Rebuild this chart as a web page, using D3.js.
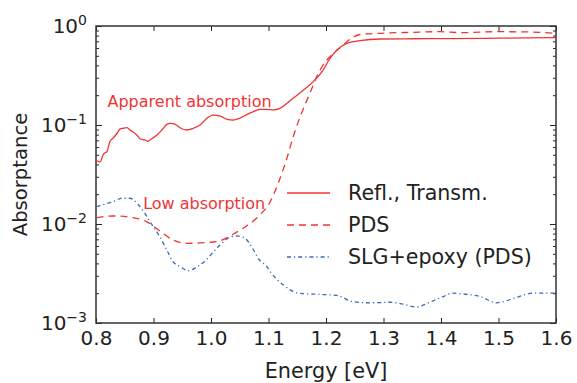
<!DOCTYPE html>
<html>
<head>
<meta charset="utf-8">
<script src="https://cdn.jsdelivr.net/npm/d3@7"></script>
<style>
  html, body { margin: 0; padding: 0; background: #fff; }
  svg { display: block; font-family: "DejaVu Sans", sans-serif; }
</style>
</head>
<body>
<svg id="chart" width="577" height="383"></svg>
<script>
// Absorptance from reflection/transmission measurements
const reflE = [0.800, 0.807, 0.813, 0.819, 0.824, 0.830, 0.837, 0.842, 0.847, 0.854, 0.859, 0.864, 0.871, 0.877,
  0.885, 0.890, 0.894, 0.906, 0.917, 0.923, 0.929, 0.937, 0.946, 0.958, 0.969, 0.981, 0.993, 1.003, 1.016,
  1.028, 1.038, 1.050, 1.063, 1.073, 1.085, 1.097, 1.108, 1.120, 1.132, 1.137, 1.161, 1.178, 1.195, 1.207,
  1.219, 1.236, 1.259, 1.294, 1.351, 1.410, 1.503, 1.600];
const reflA = [0.0443, 0.0423, 0.0509, 0.0537, 0.0678, 0.0739, 0.0830, 0.0912, 0.0926, 0.0939, 0.0890, 0.0855,
  0.0792, 0.0722, 0.0706, 0.0685, 0.0706, 0.0792, 0.0926, 0.1016, 0.1040, 0.1023, 0.0939, 0.0890, 0.0926,
  0.100, 0.117, 0.126, 0.123, 0.114, 0.112, 0.117, 0.128, 0.136, 0.144, 0.144, 0.142, 0.147, 0.166, 0.175,
  0.226, 0.274, 0.359, 0.472, 0.572, 0.669, 0.711, 0.739, 0.743, 0.745, 0.753, 0.762];

// Absorptance from photothermal deflection spectroscopy
const pdsE = [0.801, 0.830, 0.864, 0.888, 0.911, 0.934, 0.960, 0.990, 1.012, 1.039, 1.064, 1.085, 1.103, 1.117,
  1.132, 1.143, 1.155, 1.172, 1.184, 1.195, 1.213, 1.230, 1.245, 1.259, 1.294, 1.352, 1.398, 1.438, 1.497,
  1.555, 1.600];
const pdsA = [0.0116, 0.01205, 0.0116, 0.01055, 0.00850, 0.00689, 0.00638, 0.00648, 0.00666, 0.00793, 0.00977,
  0.01233, 0.0168, 0.0260, 0.0461, 0.0762, 0.121, 0.209, 0.308, 0.404, 0.530, 0.643, 0.756, 0.821, 0.844,
  0.864, 0.876, 0.856, 0.876, 0.870, 0.844];

// Reference substrate: soda-lime glass + epoxy, PDS
const slgE = [0.801, 0.816, 0.830, 0.845, 0.859, 0.874, 0.885, 0.894, 0.911, 0.926, 0.934, 0.946, 0.961, 0.975,
  0.990, 1.010, 1.033, 1.045, 1.059, 1.074, 1.082, 1.097, 1.103, 1.126, 1.152, 1.184, 1.219, 1.247, 1.277,
  1.311, 1.334, 1.358, 1.377, 1.404, 1.419, 1.439, 1.468, 1.497, 1.508, 1.532, 1.560, 1.600];
const slgA = [0.01496, 0.0159, 0.0168, 0.0182, 0.0182, 0.01556, 0.01282, 0.01055, 0.00744, 0.00506, 0.00416,
  0.00371, 0.00338, 0.00366, 0.00426, 0.00569, 0.00734, 0.00757, 0.00717, 0.00546, 0.00450, 0.00371,
  0.00330, 0.00242, 0.00200, 0.00195, 0.00190, 0.00164, 0.00160, 0.00162, 0.00155, 0.00145, 0.00159,
  0.00185, 0.00200, 0.00196, 0.00185, 0.00160, 0.00164, 0.00182, 0.00200, 0.00200];

const xTicks = [0.8, 0.9, 1.0, 1.1, 1.2, 1.3, 1.4, 1.5, 1.6];
const yTicks = [1e-3, 1e-2, 1e-1, 1];
const yTickExp = ["−3", "−2", "−1", "0"];
const legendLabels = ["Refl., Transm.", "PDS", "SLG+epoxy (PDS)"];
const annotations = [
  { text: "Apparent absorption", e: 0.820, a: 0.153 },
  { text: "Low absorption", e: 0.882, a: 0.0141 }
];

const W = 577, H = 383;
const margin = { left: 96, right: 21, top: 26, bottom: 60 };
const red = "#f03434", blue = "#3a69bd", ink = "#222";

const svg = d3.select("#chart");
const x = d3.scaleLinear().domain([0.8, 1.6]).range([margin.left, W - margin.right]);
const y = d3.scaleLog().domain([1e-3, 1]).range([H - margin.bottom, margin.top]);

const minorY = [];
for (let p = -3; p < 0; p++) for (let k = 2; k <= 9; k++) minorY.push(k * Math.pow(10, p));

const styleAxis = g => {
  g.select(".domain").remove();
  g.selectAll(".tick line").attr("stroke", ink).attr("stroke-width", 1);
  g.selectAll(".tick text").attr("fill", ink).attr("font-size", 20)
    .attr("font-family", "DejaVu Sans, sans-serif");
};

// bottom axis with labels
svg.append("g").attr("transform", `translate(0,${y(1e-3)})`)
  .call(d3.axisBottom(x).tickValues(xTicks).tickFormat(d3.format(".1f")).tickSize(-5).tickPadding(8))
  .call(styleAxis);
// top axis, ticks only
svg.append("g").attr("transform", `translate(0,${y(1)})`)
  .call(d3.axisTop(x).tickValues(xTicks).tickFormat("").tickSize(-5))
  .call(styleAxis);

// left axis: major with power-of-ten labels, then minor
const left = svg.append("g").attr("transform", `translate(${x(0.8)},0)`)
  .call(d3.axisLeft(y).tickValues(yTicks).tickSize(-6).tickPadding(9))
  .call(styleAxis);
left.selectAll(".tick text").each(function (d, i) {
  const t = d3.select(this).text(null);
  t.append("tspan").text("10");
  t.append("tspan").attr("dy", -8).attr("font-size", 14).text(yTickExp[i]);
});
svg.append("g").attr("transform", `translate(${x(0.8)},0)`)
  .call(d3.axisLeft(y).tickValues(minorY).tickFormat("").tickSize(-3))
  .call(styleAxis);
// right axis
svg.append("g").attr("transform", `translate(${x(1.6)},0)`)
  .call(d3.axisRight(y).tickValues(yTicks).tickFormat("").tickSize(-6))
  .call(styleAxis);
svg.append("g").attr("transform", `translate(${x(1.6)},0)`)
  .call(d3.axisRight(y).tickValues(minorY).tickFormat("").tickSize(-3))
  .call(styleAxis);

// frame
svg.append("rect")
  .attr("x", x(0.8)).attr("y", y(1))
  .attr("width", x(1.6) - x(0.8)).attr("height", y(1e-3) - y(1))
  .attr("fill", "none").attr("stroke", "#333").attr("stroke-width", 1.5);

// curves
const line = (es) => d3.line().x((d, i) => x(es[i])).y(d => y(d)).curve(d3.curveMonotoneX);
const plot = svg.append("g");
plot.append("path").attr("d", line(slgE)(slgA))
  .attr("fill", "none").attr("stroke", blue).attr("stroke-width", 1.3).attr("stroke-dasharray", "4,3,1.2,3");
plot.append("path").attr("d", line(pdsE)(pdsA))
  .attr("fill", "none").attr("stroke", red).attr("stroke-width", 1.3).attr("stroke-dasharray", "7,5");
plot.append("path").attr("d", line(reflE)(reflA))
  .attr("fill", "none").attr("stroke", red).attr("stroke-width", 1.3);

// annotations
svg.selectAll(".note").data(annotations).enter().append("text")
  .attr("class", "note")
  .attr("x", d => x(d.e)).attr("y", d => y(d.a))
  .attr("fill", red).attr("font-size", 16)
  .text(d => d.text);

// legend
const legendStyles = [
  { stroke: red, dash: null },
  { stroke: red, dash: "7,5" },
  { stroke: blue, dash: "4,3,1.2,3" }
];
const lg = svg.append("g");
legendLabels.forEach((lab, i) => {
  const ly = 193 + i * 32;
  lg.append("line").attr("x1", 287).attr("x2", 330).attr("y1", ly).attr("y2", ly)
    .attr("stroke", legendStyles[i].stroke).attr("stroke-width", 1.3)
    .attr("stroke-dasharray", legendStyles[i].dash);
  lg.append("text").attr("x", 348).attr("y", ly).attr("dy", "0.35em")
    .attr("fill", ink).attr("font-size", 20.6).text(lab);
});

// axis titles
svg.append("text").attr("x", (x(0.8) + x(1.6)) / 2).attr("y", 378)
  .attr("text-anchor", "middle").attr("fill", ink).attr("font-size", 20.8).text("Energy [eV]");
svg.append("text")
  .attr("transform", `translate(27,${(y(1) + y(1e-3)) / 2}) rotate(-90)`)
  .attr("text-anchor", "middle").attr("fill", ink).attr("font-size", 19.6).text("Absorptance");
</script>
</body>
</html>
